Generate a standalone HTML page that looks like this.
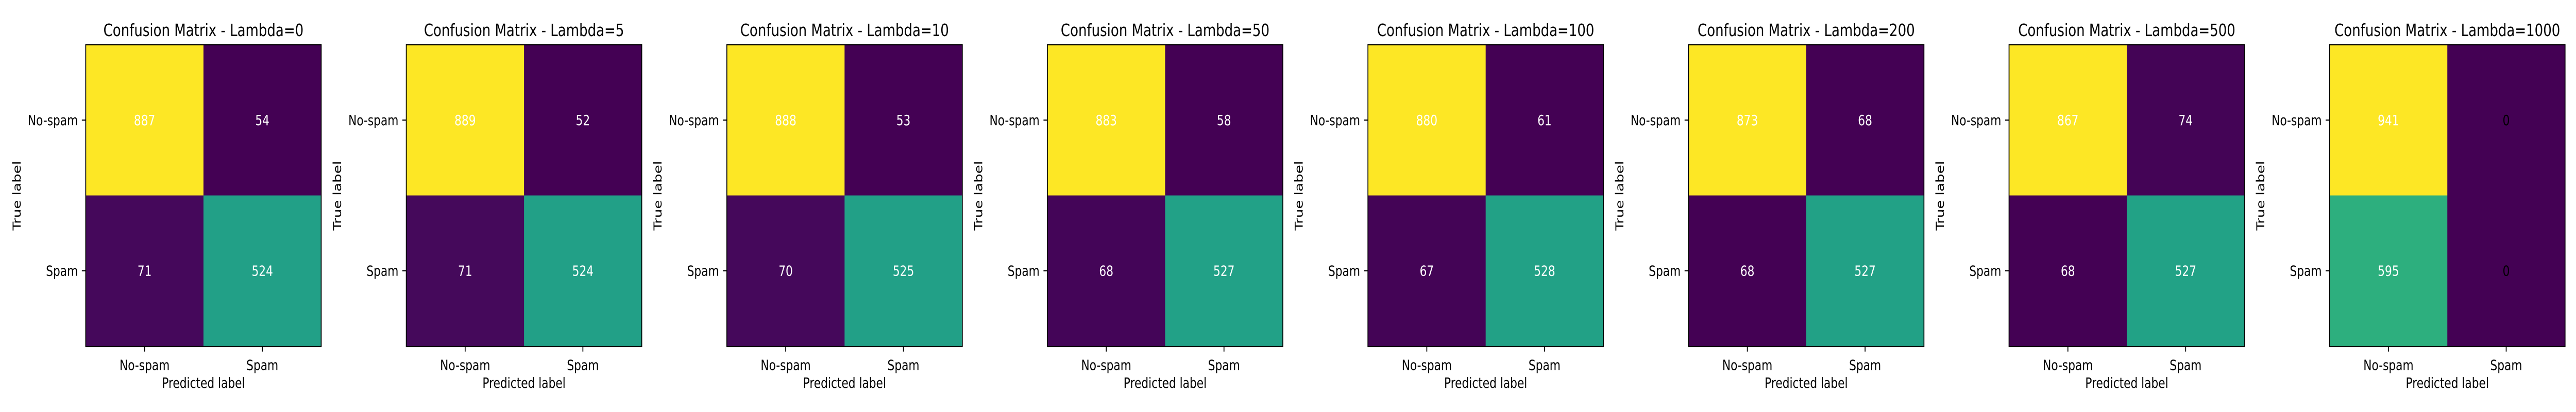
<!DOCTYPE html>
<html><head><meta charset="utf-8"><style>
html,body{margin:0;padding:0;background:#fff;width:100%;height:100%;overflow:hidden;}
svg{display:block;width:100vw;height:100vh;}
text{font-family:"DejaVu Sans","Liberation Sans",sans-serif;}
</style></head><body>
<svg id="fig" viewBox="0 0 6400 800" preserveAspectRatio="none" xmlns="http://www.w3.org/2000/svg"></svg>
<script>
const lambdas = [0, 5, 10, 50, 100, 200, 500, 1000];
const tnValues = [887, 889, 888, 883, 880, 873, 867, 941];
const fpValues = [54, 52, 53, 58, 61, 68, 74, 0];
const fnValues = [71, 71, 70, 68, 67, 68, 68, 595];
const tpValues = [524, 524, 525, 527, 528, 527, 527, 0];
const classLabels = ["No-spam", "Spam"];

const NS = "http://www.w3.org/2000/svg";
const svg = document.getElementById("fig");
const stops = ["#440154","#482475","#414487","#355f8d","#2a788e","#21918c","#22a884","#44bf70","#7ad151","#bddf26","#fde725"];
function hex(c){return [1,3,5].map(i=>parseInt(c.substr(i,2),16));}
function viridis(t){
  t=Math.max(0,Math.min(1,t));
  const p=t*10, i=Math.min(9,Math.floor(p)), f=p-i;
  const a=hex(stops[i]), b=hex(stops[i+1]);
  return "rgb("+a.map((v,k)=>Math.round(v+(b[k]-v)*f)).join(",")+")";
}
function mk(tag, attrs, parent){
  const e=document.createElementNS(NS,tag);
  for(const k in attrs) e.setAttribute(k,attrs[k]);
  (parent||svg).appendChild(e);
  return e;
}
const AX0 = 213, STEP = 796.4, AXW = 585, AXT = 87, AXH = 586;
const TICK = 9.7, FS = 27.8, TFS = 33.3;

lambdas.forEach((lam, p) => {
  const g = mk("g", {});
  
  
  const left = AX0 + STEP * p;
  const cell = AXW / 2;
  const m = [[tnValues[p], fpValues[p]], [fnValues[p], tpValues[p]]];
  const flat = m.flat();
  const mn = Math.min(...flat), mx = Math.max(...flat);
  const xPos = c => left + cell * c;
  const yPos = r => AXT + cell * r;
  for (let r = 0; r < 2; r++) for (let c = 0; c < 2; c++) {
    const v = m[r][c];
    const t = mx === mn ? 0 : (v - mn) / (mx - mn);
    const rect = mk("rect", {x: xPos(c), y: yPos(r), width: cell + 0.5, height: cell + 0.5, fill: viridis(t)}, g);
    
    
    const tx = mk("text", {x: xPos(c) + cell / 2, y: yPos(r) + cell / 2 + FS * 0.36, "text-anchor": "middle", "font-size": FS, fill: v === 0 ? "#000" : "#fff"}, g);
    tx.textContent = v;
    
    
  }
  const frame = mk("rect", {x: left, y: AXT, width: AXW, height: AXH, fill: "none", stroke: "#000", "stroke-width": 2.2}, g);
  
  
  const title = mk("text", {x: left + AXW / 2, y: AXT - 17, "text-anchor": "middle", "font-size": TFS}, g);
  title.textContent = "Confusion Matrix - Lambda=" + lam;
  
  
  classLabels.forEach((lab, i) => {
    const cx = xPos(i) + cell / 2, cy = yPos(i) + cell / 2;
    mk("line", {x1: cx, x2: cx, y1: AXT + AXH, y2: AXT + AXH + TICK, stroke: "#000", "stroke-width": 2.2}, g);
    mk("line", {x1: left - TICK, x2: left, y1: cy, y2: cy, stroke: "#000", "stroke-width": 2.2}, g);
    const xl = mk("text", {x: cx, y: AXT + AXH + TICK + 9.7 + 26, "text-anchor": "middle", "font-size": FS}, g);
    xl.textContent = lab;
    
    
    const yl = mk("text", {x: left - TICK - 9.7, y: cy + FS * 0.36, "text-anchor": "end", "font-size": FS}, g);
    yl.textContent = lab;
    
    
  });
  const xt = mk("text", {x: left + AXW / 2, y: 753, "text-anchor": "middle", "font-size": FS}, g);
  xt.textContent = "Predicted label";
  
  
  const yx = left - 172 + 10, yy = AXT + AXH / 2;
  const yt = mk("text", {x: yx, y: yy, "text-anchor": "middle", "font-size": FS, transform: "rotate(-90 " + yx + " " + yy + ")"}, g);
  yt.textContent = "True label";
  
  
});
</script>
</body></html>
